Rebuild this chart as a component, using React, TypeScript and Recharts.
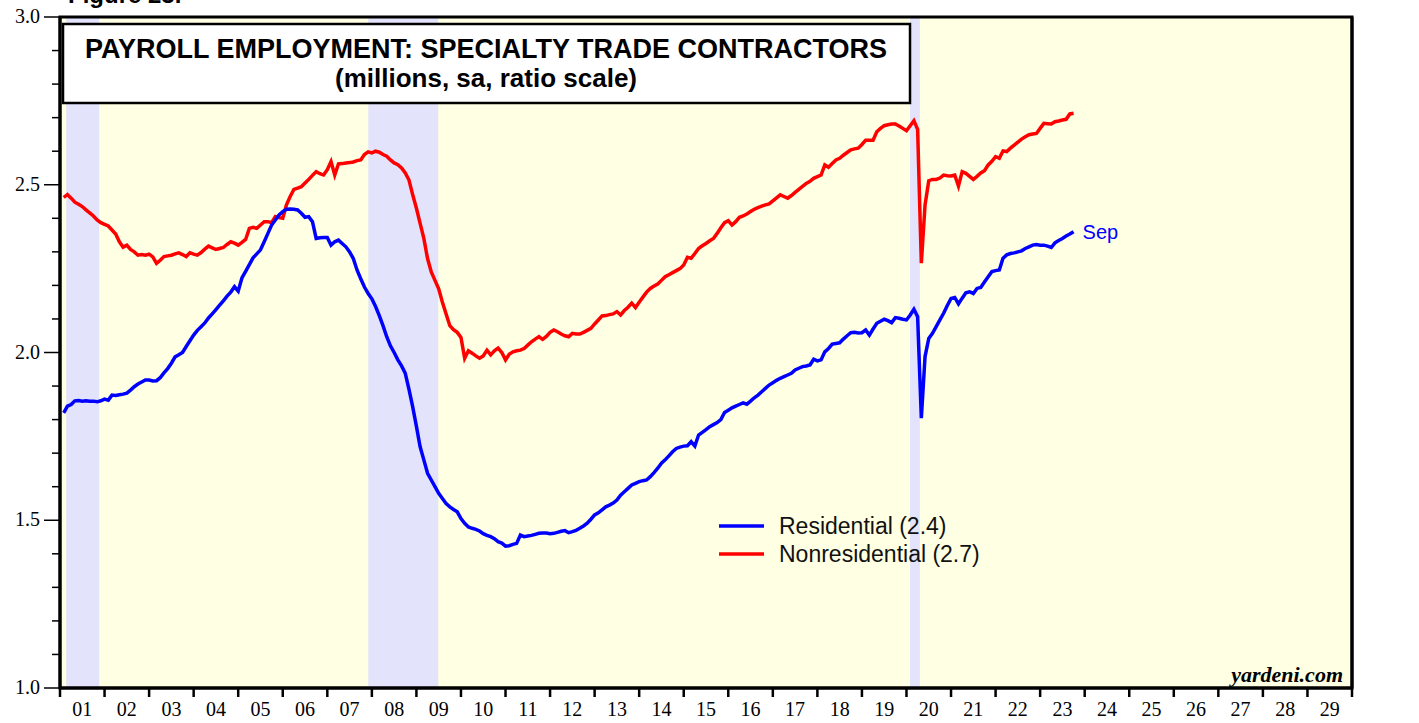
import React from 'react'
import { LineChart, Line, XAxis, YAxis, ReferenceArea } from 'recharts'

// monthly, Jan 2001 .. Sep 2023 (millions, sa)
const residential = [
  1.82, 1.84, 1.845, 1.856, 1.857, 1.855, 1.856, 1.855, 1.855, 1.853, 1.856, 1.861,
  1.858, 1.873, 1.872, 1.874, 1.876, 1.879, 1.888, 1.898, 1.906, 1.912, 1.918, 1.918,
  1.915, 1.916, 1.925, 1.939, 1.952, 1.968, 1.987, 1.993, 2.0, 2.018, 2.035, 2.052,
  2.066, 2.077, 2.088, 2.103, 2.115, 2.128, 2.141, 2.154, 2.168, 2.18, 2.196, 2.183,
  2.222, 2.242, 2.262, 2.282, 2.294, 2.306, 2.33, 2.355, 2.38, 2.395, 2.41, 2.42,
  2.427, 2.428, 2.427, 2.425, 2.415, 2.403, 2.405, 2.39, 2.34, 2.342, 2.343, 2.343,
  2.32, 2.33, 2.335, 2.325, 2.315, 2.3, 2.28, 2.246, 2.22, 2.195, 2.176, 2.16,
  2.137, 2.11, 2.08, 2.047, 2.02, 2.0, 1.978, 1.96, 1.938, 1.89, 1.838, 1.78,
  1.719, 1.68, 1.64, 1.62, 1.6, 1.58, 1.565, 1.55, 1.54, 1.532, 1.525, 1.505,
  1.491, 1.48, 1.476, 1.473, 1.468, 1.46, 1.455, 1.451, 1.445, 1.436, 1.432, 1.423,
  1.424, 1.428, 1.431, 1.456, 1.451, 1.453, 1.455, 1.458, 1.461, 1.462, 1.462, 1.46,
  1.461, 1.464, 1.467, 1.469, 1.463, 1.466, 1.47, 1.476, 1.483, 1.491, 1.503, 1.516,
  1.522, 1.531, 1.54, 1.545, 1.551, 1.56, 1.575, 1.585, 1.595, 1.605, 1.61, 1.615,
  1.618, 1.62, 1.63, 1.642, 1.655, 1.67, 1.68, 1.692, 1.704, 1.714, 1.718, 1.721,
  1.722, 1.734, 1.721, 1.754, 1.762, 1.77, 1.779, 1.785, 1.791, 1.8, 1.821, 1.828,
  1.835, 1.84, 1.845, 1.85, 1.846, 1.855, 1.865, 1.873, 1.883, 1.893, 1.903, 1.91,
  1.917, 1.923, 1.928, 1.933, 1.938, 1.948, 1.953, 1.958, 1.96, 1.963, 1.98, 1.975,
  1.978, 2.002, 2.012, 2.025, 2.027, 2.029, 2.04, 2.05, 2.059, 2.06, 2.058, 2.059,
  2.067, 2.052, 2.07, 2.087, 2.093, 2.099, 2.095, 2.089, 2.104, 2.102, 2.099, 2.097,
  2.112, 2.129, 2.107, 1.804, 1.988, 2.042, 2.057, 2.077, 2.097, 2.117, 2.14, 2.161,
  2.164, 2.145, 2.162, 2.178, 2.181, 2.176, 2.191, 2.194, 2.21, 2.226, 2.241, 2.244,
  2.246, 2.281, 2.291, 2.295, 2.297, 2.3, 2.303, 2.31, 2.315, 2.32, 2.322, 2.32,
  2.32, 2.317, 2.313, 2.327, 2.334, 2.34, 2.347, 2.353, 2.36,
]

const nonresidential = [
  2.462, 2.471, 2.46, 2.448, 2.442, 2.435, 2.425, 2.416, 2.407, 2.395, 2.387, 2.382,
  2.377, 2.365, 2.353, 2.33, 2.314, 2.32, 2.307, 2.3, 2.29, 2.292, 2.29, 2.293,
  2.285, 2.266, 2.275, 2.286, 2.288, 2.29, 2.294, 2.297, 2.292, 2.286, 2.297, 2.293,
  2.29, 2.298, 2.308, 2.317, 2.312, 2.307, 2.31, 2.313, 2.322, 2.33, 2.326, 2.32,
  2.328, 2.337, 2.37, 2.373, 2.37, 2.38, 2.39, 2.39, 2.387, 2.405, 2.402, 2.4,
  2.44, 2.465, 2.486, 2.49, 2.494, 2.505, 2.516, 2.528, 2.539, 2.533, 2.529, 2.545,
  2.569, 2.529, 2.562, 2.563, 2.565, 2.566, 2.568, 2.572, 2.574, 2.59, 2.598, 2.595,
  2.6, 2.597, 2.59, 2.585, 2.574, 2.565, 2.56, 2.55, 2.535, 2.514, 2.47, 2.43,
  2.385, 2.34, 2.28, 2.24, 2.215, 2.19, 2.15, 2.115, 2.08, 2.068, 2.06, 2.045,
  1.983, 2.005, 1.998, 1.99, 1.983, 1.99, 2.007, 1.993, 2.005, 2.013, 2.0, 1.978,
  1.995, 2.002, 2.005, 2.007, 2.012, 2.022, 2.032, 2.04, 2.047, 2.039, 2.048, 2.06,
  2.067, 2.062, 2.055, 2.05, 2.047, 2.057, 2.055, 2.055, 2.06, 2.066, 2.072, 2.085,
  2.097, 2.109, 2.11, 2.113, 2.115, 2.122, 2.112, 2.125, 2.135, 2.147, 2.134, 2.15,
  2.165, 2.18, 2.191, 2.198, 2.204, 2.215, 2.226, 2.232, 2.238, 2.244, 2.25, 2.261,
  2.284, 2.281, 2.295, 2.31, 2.318, 2.325, 2.333, 2.34, 2.355, 2.372, 2.387, 2.393,
  2.38, 2.39, 2.403, 2.407, 2.413, 2.42, 2.427, 2.432, 2.436, 2.44, 2.443, 2.452,
  2.461, 2.47, 2.465, 2.46, 2.468, 2.477, 2.486, 2.495, 2.504, 2.51, 2.519, 2.524,
  2.529, 2.559, 2.552, 2.563, 2.574, 2.579, 2.588, 2.596, 2.604, 2.607, 2.609, 2.62,
  2.633, 2.633, 2.633, 2.658, 2.668, 2.676, 2.679, 2.681, 2.681, 2.675, 2.668, 2.661,
  2.676, 2.691, 2.665, 2.266, 2.44, 2.512, 2.516, 2.516, 2.52, 2.529, 2.527, 2.526,
  2.529, 2.496, 2.539, 2.534, 2.525, 2.516, 2.525, 2.535, 2.542, 2.559, 2.57, 2.584,
  2.579, 2.601, 2.599, 2.609, 2.618, 2.627, 2.636, 2.643, 2.649, 2.651, 2.653, 2.668,
  2.683, 2.682, 2.681, 2.688, 2.69, 2.693, 2.695, 2.711, 2.713,
]

const startYear = 2001
const endYear = 2030
const yearLabels = ['01', '02', '03', '04', '05', '06', '07', '08', '09', '10', '11', '12', '13', '14', '15',
  '16', '17', '18', '19', '20', '21', '22', '23', '24', '25', '26', '27', '28', '29']
const monthNames = ['Jan', 'Feb', 'Mar', 'Apr', 'May', 'Jun', 'Jul', 'Aug', 'Sep', 'Oct', 'Nov', 'Dec']
const recessions = [[2001.14, 2001.88], [2007.92, 2009.49], [2020.08, 2020.3]]
const yTicks = [1.0, 1.1, 1.2, 1.3, 1.4, 1.5, 1.6, 1.7, 1.8, 1.9, 2.0, 2.1, 2.2, 2.3, 2.4, 2.5, 2.6, 2.7, 2.8, 2.9, 3.0]

const BLUE = '#0000ff'
const RED = '#ff0000'
const SERIF = '"Liberation Serif", "Times New Roman", serif'
const SANS = '"Liberation Sans", Arial, sans-serif'

// points sit at month end
const data = residential.map((r, i) => ({ t: startYear + (i + 1) / 12, res: r, nonres: nonresidential[i] }))

const xTicks: number[] = []
for (let y = startYear; y <= endYear; y++) {
  xTicks.push(y)
  if (y < endYear) xTicks.push(y + 0.5)
}

const lastIdx = residential.length - 1
const lastMonth = monthNames[lastIdx % 12]

const series = [
  { key: 'res', label: `Residential (${residential[lastIdx].toFixed(1)})`, color: BLUE },
  { key: 'nonres', label: `Nonresidential (${nonresidential[lastIdx].toFixed(1)})`, color: RED },
]

const isMajor = (v: number) => Math.abs(v * 2 - Math.round(v * 2)) < 1e-6

function XTick(props: any) {
  const { x, y, payload } = props
  const v = payload.value
  if (Number.isInteger(v)) {
    return <line x1={x} x2={x} y1={y} y2={y + 9} stroke="#000" strokeWidth={2.5} />
  }
  return (
    <text x={x} y={y + 28} textAnchor="middle" fontFamily={SERIF} fontSize={20} fill="#000">
      {yearLabels[Math.floor(v) - startYear]}
    </text>
  )
}

function LeftTick(props: any) {
  const { x, y, payload } = props
  const major = isMajor(payload.value)
  const len = major ? 16 : 8
  return (
    <g>
      <line x1={x - len} x2={x} y1={y} y2={y} stroke="#000" strokeWidth={1.5} />
      {major && (
        <text x={x - len - 4} y={y} dy={6} textAnchor="end" fontFamily={SERIF} fontSize={20} fill="#000">
          {payload.value.toFixed(1)}
        </text>
      )}
    </g>
  )
}

function RightTick(props: any) {
  const { x, y, payload } = props
  const major = isMajor(payload.value)
  const len = major ? 17 : 9
  return (
    <g>
      <line x1={x} x2={x + len} y1={y} y2={y} stroke="#000" strokeWidth={1.5} />
      {major && (
        <text x={x + len + 5} y={y} dy={6} textAnchor="start" fontFamily={SERIF} fontSize={20} fill="#000">
          {payload.value.toFixed(1)}
        </text>
      )}
    </g>
  )
}

function SepLabel(props: any) {
  const { x, y, index } = props
  if (index !== lastIdx) return null
  return (
    <text x={x + 9} y={y} dy={7} fontFamily={SANS} fontSize={20} fill={BLUE}>
      {lastMonth}
    </text>
  )
}

export default function App() {
  return (
    <div style={{ position: 'absolute', left: 0, top: 0, width: 1419, height: 723, background: '#fff' }}>
      <LineChart width={1419} height={723} data={data} margin={{ top: 17, right: 17, bottom: 0, left: 10 }}>
        <XAxis
          dataKey="t"
          type="number"
          domain={[startYear, endYear]}
          ticks={xTicks}
          interval={0}
          tickSize={0}
          tickMargin={0}
          tickLine={false}
          tick={<XTick />}
          axisLine={{ stroke: '#000', strokeWidth: 3 }}
          height={35}
        />
        <YAxis
          yAxisId="left"
          orientation="left"
          domain={[1, 3]}
          ticks={yTicks}
          interval={0}
          tickSize={0}
          tickMargin={0}
          tickLine={false}
          tick={<LeftTick />}
          axisLine={{ stroke: '#000', strokeWidth: 3 }}
          width={50}
        />
        <YAxis
          yAxisId="right"
          orientation="right"
          domain={[1, 3]}
          ticks={yTicks}
          interval={0}
          tickSize={0}
          tickMargin={0}
          tickLine={false}
          tick={<RightTick />}
          axisLine={{ stroke: '#000', strokeWidth: 3 }}
          width={50}
        />
        <ReferenceArea yAxisId="left" x1={startYear} x2={endYear} y1={1} y2={3} fill="#ffffe3" fillOpacity={1} stroke="none" />
        {recessions.map(([a, b]) => (
          <ReferenceArea key={a} yAxisId="left" x1={a} x2={b} y1={1} y2={3} fill="#e3e3fb" fillOpacity={1} stroke="none" />
        ))}
        <ReferenceArea yAxisId="left" x1={startYear} x2={endYear} y1={1} y2={3} fill="none" stroke="#000" strokeWidth={3} />
        <Line
          yAxisId="left"
          type="linear"
          dataKey="nonres"
          stroke={RED}
          strokeWidth={3.5}
          dot={false}
          isAnimationActive={false}
        />
        <Line
          yAxisId="left"
          type="linear"
          dataKey="res"
          stroke={BLUE}
          strokeWidth={3.5}
          dot={false}
          label={<SepLabel />}
          isAnimationActive={false}
        />
      </LineChart>
      <svg width={1419} height={723} style={{ position: 'absolute', left: 0, top: 0, pointerEvents: 'none' }}>
        <text x={68} y={3} fontFamily={SANS} fontWeight="bold" fontSize={24} fill="#000">Figure 23.</text>
        <rect x={63} y={24} width={847} height={79} fill="#fff" stroke="#000" strokeWidth={2.5} />
        <text x={486} y={58} textAnchor="middle" fontFamily={SANS} fontWeight="bold" fontSize={27} fill="#000">
          PAYROLL EMPLOYMENT: SPECIALTY TRADE CONTRACTORS
        </text>
        <text x={486} y={87} textAnchor="middle" fontFamily={SANS} fontWeight="bold" fontSize={26} fill="#000">
          (millions, sa, ratio scale)
        </text>
        <g transform="translate(715, 512)">
          {series.map((s, i) => (
            <g key={s.key}>
              <line x1={4} x2={49} y1={14 + i * 28} y2={14 + i * 28} stroke={s.color} strokeWidth={3.5} />
              <text x={64} y={14 + i * 28} dy={8} fontFamily={SANS} fontSize={23} fill="#111">
                {s.label}
              </text>
            </g>
          ))}
        </g>
        <text x={1343} y={682} textAnchor="end" fontFamily={SERIF} fontWeight="bold" fontStyle="italic" fontSize={22} fill="#000">
          yardeni.com
        </text>
      </svg>
    </div>
  )
}
